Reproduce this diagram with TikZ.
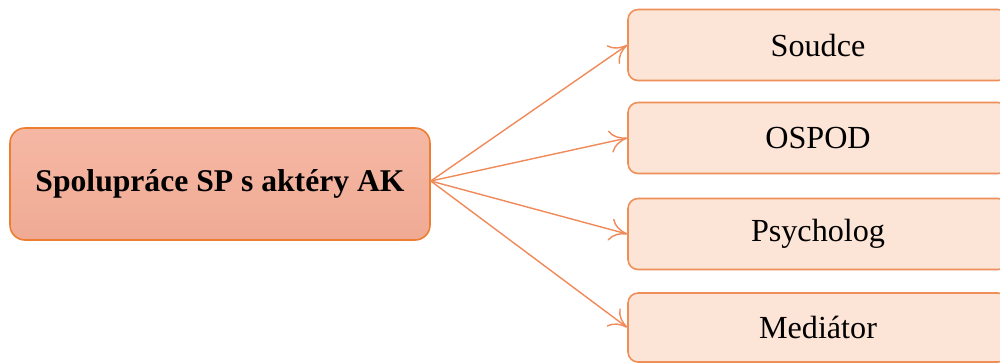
\documentclass[tikz,border=0pt]{standalone}
\usepackage{fontspec}
\setmainfont{Liberation Serif}
\usetikzlibrary{arrows.meta}
\definecolor{akedge}{HTML}{ED7D31}
\definecolor{aktop}{HTML}{F5B8A4}
\definecolor{akbot}{HTML}{F0AA94}
\definecolor{actfill}{HTML}{FCE4D6}
\definecolor{actedge}{HTML}{EF8F58}
\definecolor{linkcol}{HTML}{F08A5A}
\tikzset{
  mainbox/.style={draw=akedge, line width=0.9pt, rounded corners=0.3cm,
    top color=aktop, bottom color=akbot, minimum width=8.4cm,
    minimum height=2.24cm, font=\fontsize{18}{21}\selectfont\bfseries},
  actorbox/.style={draw=actedge, line width=0.9pt, rounded corners=0.2cm,
    fill=actfill, minimum width=7.6cm, minimum height=1.42cm,
    font=\fontsize{18.3}{21}\selectfont},
  link/.style={draw=linkcol, line width=0.8pt, -{To[length=3.5mm, width=4.5mm]}}
}
\begin{document}
\begin{tikzpicture}
    \useasboundingbox (0, 0) rectangle (20, -7.26);
    \node[mainbox] (ak) at (4.4, -3.68) {Spolupráce SP s aktéry AK};
    \node[actorbox] (soudce) at (16.36, -0.9) {Soudce};
    \node[actorbox] (ospod) at (16.36, -2.76) {OSPOD};
    \node[actorbox] (psycholog) at (16.36, -4.68) {Psycholog};
    \node[actorbox, minimum height=1.38cm] (mediator) at (16.36, -6.55) {Mediátor};
    \foreach \n in {soudce, ospod, psycholog, mediator}
        \draw[link] ([yshift=0.06cm]ak.east) -- (\n.west);
\end{tikzpicture}
\end{document}
